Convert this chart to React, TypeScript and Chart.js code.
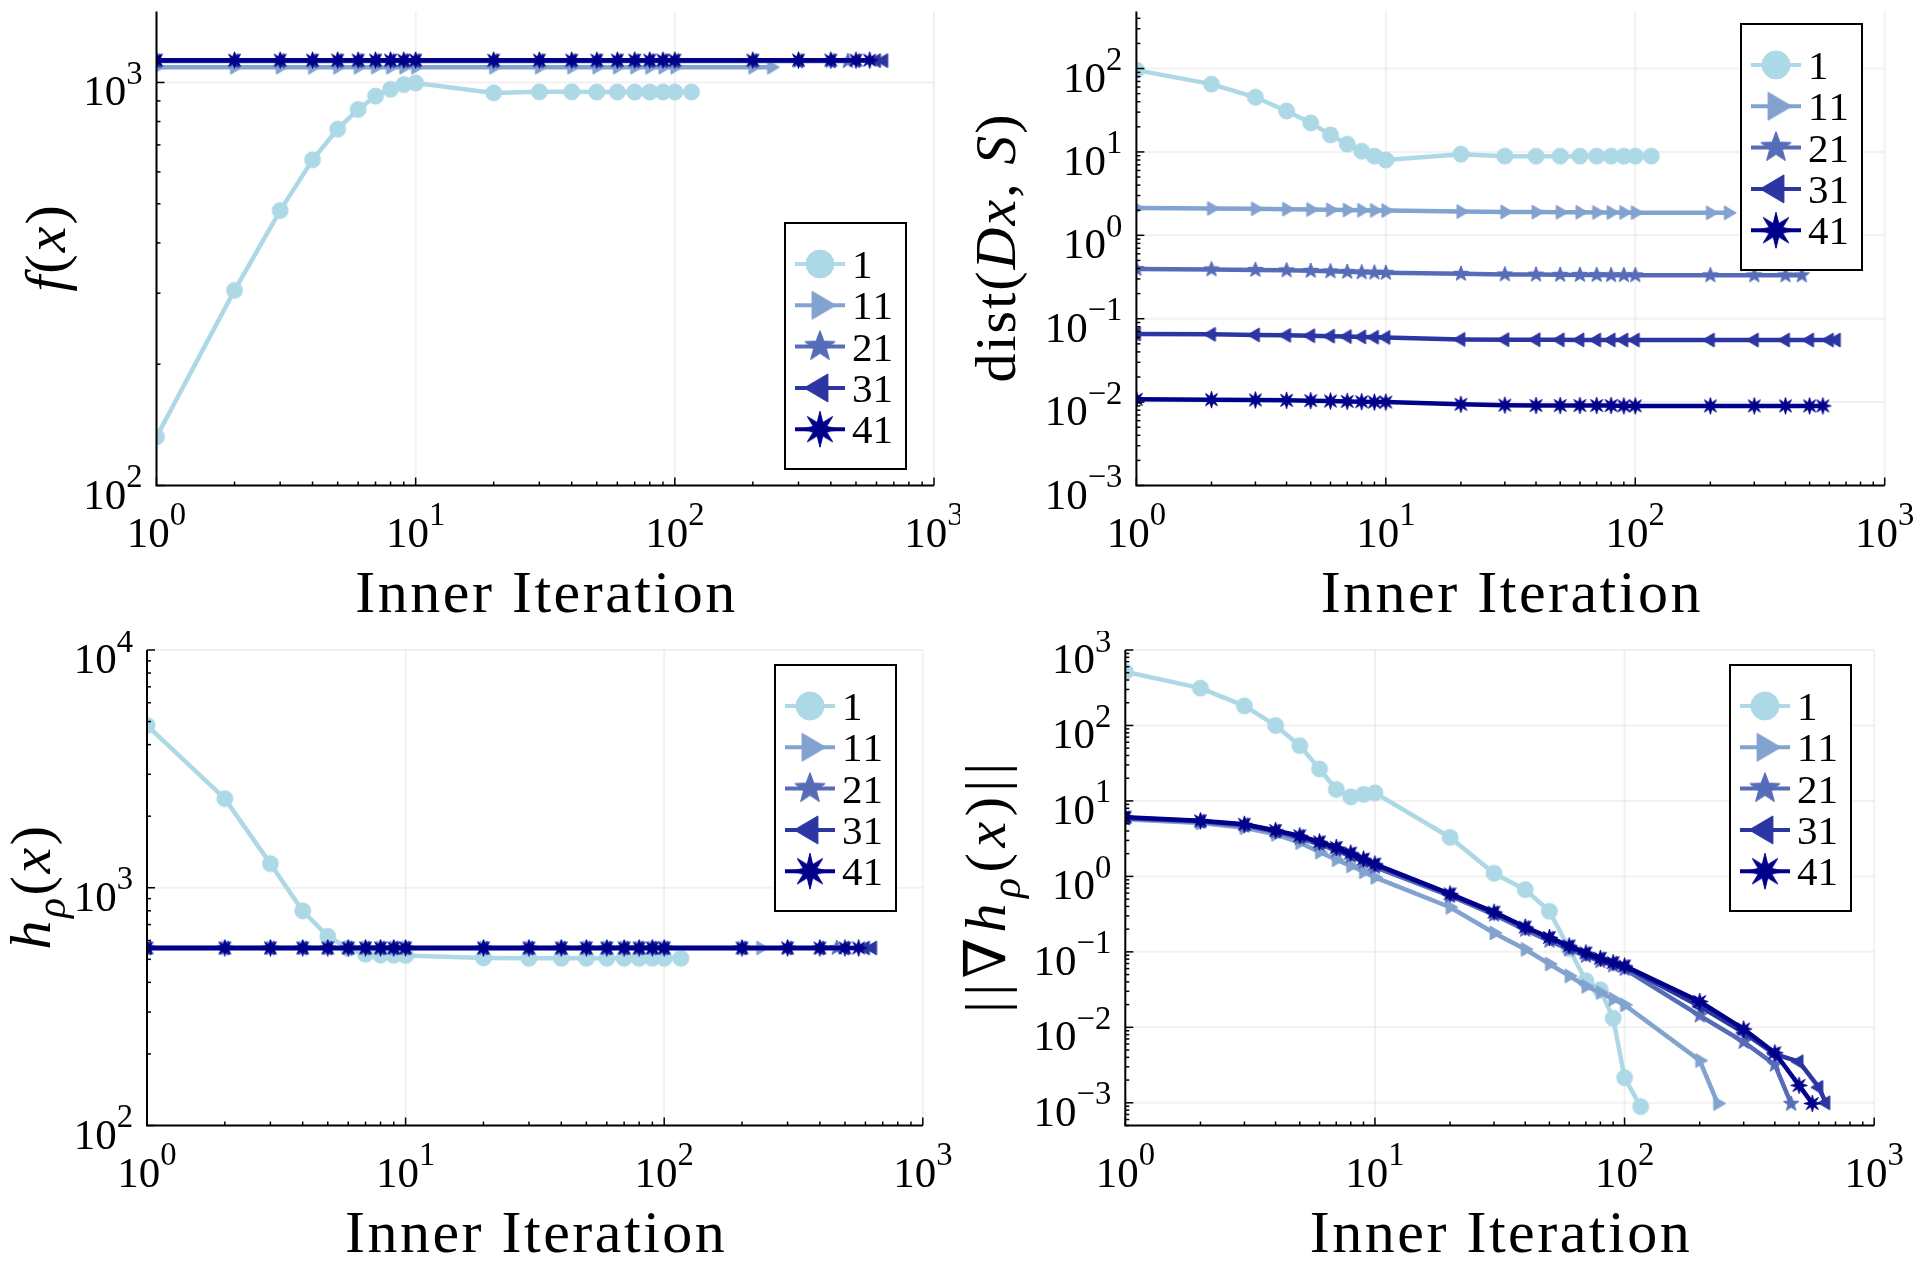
import React, { useEffect, useRef } from 'react';
import { Chart, registerables } from 'chart.js';

Chart.register(...registerables);

// ---------------- data ----------------
const SERIES_LABELS = ['1', '11', '21', '31', '41'];
const SERIES_COLORS = ['#ADD8E6', '#82A2CF', '#576CB9', '#2B36A2', '#00008B'];
const SERIES_MARKERS = ['circle', 'rtriangle', 'star5', 'ltriangle', 'star8'];

const ITERS_1 = [1, 2, 3, 4, 5, 6, 7, 8, 9, 10, 20, 30, 40, 50, 60, 70, 80, 90, 100, 116];
const ITERS_11 = [1, 2, 3, 4, 5, 6, 7, 8, 9, 10, 20, 30, 40, 50, 60, 70, 80, 90, 100, 200, 236];
const ITERS_21 = [1, 2, 3, 4, 5, 6, 7, 8, 9, 10, 20, 30, 40, 50, 60, 70, 80, 90, 100, 200, 300, 400, 465];
const ITERS_31 = [1, 2, 3, 4, 5, 6, 7, 8, 9, 10, 20, 30, 40, 50, 60, 70, 80, 90, 100, 200, 300, 400, 500, 600, 640];
const ITERS_41 = [1, 2, 3, 4, 5, 6, 7, 8, 9, 10, 20, 30, 40, 50, 60, 70, 80, 90, 100, 200, 300, 400, 500, 565];

// f(x)
const F_1 = [132, 305, 481, 643, 766, 857, 925, 962, 988, 997, 942, 948, 948, 947, 947, 947, 947, 947, 947, 947];
const F_11 = [1091, 1091, 1091, 1091, 1091, 1091, 1091, 1091, 1091, 1091, 1091, 1091, 1091, 1091, 1091, 1091, 1091, 1091, 1091, 1091, 1091];
const F_21 = [1130, 1130, 1130, 1130, 1130, 1130, 1130, 1130, 1130, 1130, 1130, 1130, 1130, 1130, 1130, 1130, 1130, 1130, 1130, 1130, 1130, 1130, 1130];
const F_31 = [1133, 1133, 1133, 1133, 1133, 1133, 1133, 1133, 1133, 1133, 1133, 1133, 1133, 1133, 1133, 1133, 1133, 1133, 1133, 1133, 1133, 1133, 1133, 1133, 1133];
const F_41 = [1136, 1136, 1136, 1136, 1136, 1136, 1136, 1136, 1136, 1136, 1136, 1136, 1136, 1136, 1136, 1136, 1136, 1136, 1136, 1136, 1136, 1136, 1136, 1136];

// dist(Dx, S)
const D_1 = [95.7, 65, 45.2, 31, 22.3, 16, 12.4, 10.2, 8.9, 8.0, 9.4, 8.9, 8.9, 8.9, 8.9, 8.9, 8.9, 8.9, 8.9, 8.9];
const D_11 = [2.12, 2.1, 2.08, 2.06, 2.04, 2.02, 2.01, 2.0, 1.99, 1.98, 1.93, 1.91, 1.9, 1.89, 1.89, 1.88, 1.88, 1.88, 1.87, 1.86, 1.86];
const D_21 = [0.395, 0.39, 0.385, 0.38, 0.375, 0.37, 0.365, 0.36, 0.357, 0.355, 0.345, 0.34, 0.338, 0.336, 0.335, 0.334, 0.333, 0.333, 0.332, 0.332, 0.331, 0.331, 0.331];
const D_31 = [0.0656, 0.065, 0.064, 0.0632, 0.0625, 0.0618, 0.061, 0.0605, 0.06, 0.0597, 0.0565, 0.0561, 0.056, 0.0558, 0.0557, 0.0556, 0.0556, 0.0555, 0.0555, 0.0555, 0.0555, 0.0555, 0.0555, 0.0555, 0.0555];
const D_41 = [0.0108, 0.0107, 0.0106, 0.0105, 0.0104, 0.0103, 0.0102, 0.0101, 0.01, 0.01, 0.0094, 0.0092, 0.0091, 0.0091, 0.0091, 0.0091, 0.0091, 0.009, 0.009, 0.009, 0.009, 0.009, 0.009, 0.009];

// h_rho(x)
const H_1 = [4820, 2370, 1263, 799, 625, 555, 525, 521, 520, 519, 507, 505, 505, 505, 505, 505, 505, 505, 505, 505];
const H_11 = [558, 558, 558, 558, 558, 558, 558, 558, 558, 558, 558, 558, 558, 558, 558, 558, 558, 558, 558, 558, 558];
const H_21 = [558, 558, 558, 558, 558, 558, 558, 558, 558, 558, 558, 558, 558, 558, 558, 558, 558, 558, 558, 558, 558, 558, 558];
const H_31 = [558, 558, 558, 558, 558, 558, 558, 558, 558, 558, 558, 558, 558, 558, 558, 558, 558, 558, 558, 558, 558, 558, 558, 558, 558];
const H_41 = [558, 558, 558, 558, 558, 558, 558, 558, 558, 558, 558, 558, 558, 558, 558, 558, 558, 558, 558, 558, 558, 558, 558, 558];

// ||grad h_rho(x)||
const G_1 = [516, 312, 182, 100, 54, 26.5, 14.2, 11.3, 12.2, 12.8, 3.28, 1.1, 0.667, 0.345, 0.11, 0.0414, 0.0315, 0.0132, 0.00215, 0.00089];
const G_11 = [5.7, 5.1, 4.4, 3.6, 2.8, 2.1, 1.66, 1.38, 1.15, 0.97, 0.39, 0.178, 0.108, 0.069, 0.048, 0.035, 0.029, 0.0237, 0.0198, 0.00363, 0.00098];
const G_21 = [5.9, 5.3, 4.7, 3.9, 3.2, 2.65, 2.2, 1.85, 1.55, 1.33, 0.55, 0.31, 0.195, 0.14, 0.108, 0.088, 0.075, 0.066, 0.059, 0.0143, 0.0064, 0.0032, 0.00097];
const G_31 = [6.0, 5.4, 4.85, 4.0, 3.4, 2.8, 2.35, 1.98, 1.65, 1.42, 0.575, 0.33, 0.21, 0.152, 0.117, 0.095, 0.081, 0.071, 0.064, 0.019, 0.0085, 0.0044, 0.0035, 0.0016, 0.001];
const G_41 = [6.1, 5.45, 4.9, 4.05, 3.45, 2.87, 2.42, 2.04, 1.7, 1.46, 0.586, 0.336, 0.213, 0.155, 0.12, 0.097, 0.082, 0.072, 0.065, 0.022, 0.0095, 0.0046, 0.0017, 0.00098];

const SERIES_ITERS = [ITERS_1, ITERS_11, ITERS_21, ITERS_31, ITERS_41];

// tick labels (exponents of 10)
const X_TICK_EXP = [0, 1, 2, 3];
const F_Y_TICK_EXP = [2, 3];
const D_Y_TICK_EXP = [-3, -2, -1, 0, 1, 2];
const H_Y_TICK_EXP = [2, 3, 4];
const G_Y_TICK_EXP = [-3, -2, -1, 0, 1, 2, 3];

const X_TITLE = 'Inner Iteration';

type Run = { t: string; it?: boolean; sub?: boolean; sup?: boolean };
const F_TITLE: Run[] = [{ t: 'f', it: true }, { t: '(' }, { t: 'x', it: true }, { t: ')' }];
const D_TITLE: Run[] = [{ t: 'dist(' }, { t: 'Dx', it: true }, { t: ', ' }, { t: 'S', it: true }, { t: ')' }];
const H_TITLE: Run[] = [{ t: 'h', it: true }, { t: 'ρ', it: true, sub: true }, { t: '(' }, { t: 'x', it: true }, { t: ')' }];
const G_TITLE: Run[] = [
  { t: '||' }, { t: '∇' }, { t: 'h', it: true }, { t: 'ρ', it: true, sub: true },
  { t: '(' }, { t: 'x', it: true }, { t: ')' }, { t: '||' },
];

// ---------------- layout / style ----------------
const FONT = '"Liberation Serif", "Times New Roman", "DejaVu Serif", serif';
const TICK_FONT = 43;
const SUP_SCALE = 0.76;
const LEGEND_FONT = 41;

const PANELS = [
  {
    left: 0, top: 0, pad: { left: 156.5, right: 26, top: 9, bottom: 145.5 },
    yMin: 100, yMax: 1500, yTicks: F_Y_TICK_EXP, yTitle: F_TITLE, yTitleX: 65, yTitleSpacing: 2,
    legend: { x: 785, y: 223 }, values: [F_1, F_11, F_21, F_31, F_41],
  },
  {
    left: 960, top: 0, pad: { left: 176.4, right: 35.3, top: 9, bottom: 145.5 },
    yMin: 0.001, yMax: 483, yTicks: D_Y_TICK_EXP, yTitle: D_TITLE, yTitleX: 55, yTitleSpacing: 2,
    legend: { x: 781, y: 24 }, values: [D_1, D_11, D_21, D_31, D_41],
  },
  {
    left: 0, top: 631, pad: { left: 147, right: 37.2, top: 19, bottom: 136.5 },
    yMin: 100, yMax: 10000, yTicks: H_Y_TICK_EXP, yTitle: H_TITLE, yTitleX: 50, yTitleSpacing: 2.5,
    legend: { x: 775, y: 34 }, values: [H_1, H_11, H_21, H_31, H_41],
  },
  {
    left: 960, top: 631, pad: { left: 165.3, right: 45.8, top: 19, bottom: 136.5 },
    yMin: 0.0005, yMax: 1000, yTicks: G_Y_TICK_EXP, yTitle: G_TITLE, yTitleX: 45, yTitleSpacing: 5.5,
    legend: { x: 770, y: 34 }, values: [G_1, G_11, G_21, G_31, G_41],
  },
];

// ---------------- helpers ----------------
function markerPath(ctx: CanvasRenderingContext2D, shape: string, s: number) {
  ctx.beginPath();
  if (shape === 'circle') {
    ctx.arc(0, 0, s, 0, Math.PI * 2);
  } else if (shape === 'rtriangle' || shape === 'ltriangle') {
    const dir = shape === 'rtriangle' ? 1 : -1;
    const h = s * 2;
    const w = h * 0.85;
    ctx.moveTo((dir * w * 2) / 3, 0);
    ctx.lineTo((-dir * w) / 3, -h / 2);
    ctx.lineTo((-dir * w) / 3, h / 2);
    ctx.closePath();
  } else if (shape === 'star5') {
    for (let i = 0; i < 10; i++) {
      const r = i % 2 === 0 ? s : s * 0.42;
      const a = -Math.PI / 2 + (i * Math.PI) / 5;
      if (i === 0) ctx.moveTo(r * Math.cos(a), r * Math.sin(a));
      else ctx.lineTo(r * Math.cos(a), r * Math.sin(a));
    }
    ctx.closePath();
  } else if (shape === 'star8') {
    for (let i = 0; i < 16; i++) {
      const r = i % 2 === 0 ? s : s * 0.4;
      const a = -Math.PI / 2 + (i * Math.PI) / 8;
      if (i === 0) ctx.moveTo(r * Math.cos(a), r * Math.sin(a));
      else ctx.lineTo(r * Math.cos(a), r * Math.sin(a));
    }
    ctx.closePath();
  }
}

const PLOT_MARKER_SIZE: Record<string, number> = { circle: 8, rtriangle: 7, star5: 8, ltriangle: 7, star8: 8.5 };
const LEGEND_MARKER_SIZE: Record<string, number> = { circle: 14, rtriangle: 14, star5: 16, ltriangle: 14, star8: 18 };

function makeMarker(shape: string, color: string, s: number): HTMLCanvasElement {
  const c = document.createElement('canvas');
  const n = Math.ceil(s * 2 + 4);
  c.width = n;
  c.height = n;
  const ctx = c.getContext('2d')!;
  ctx.translate(n / 2, n / 2);
  markerPath(ctx, shape, s);
  ctx.fillStyle = color;
  ctx.fill();
  ctx.strokeStyle = color;
  ctx.lineWidth = 1;
  ctx.stroke();
  return c;
}

function runFont(r: Run, size: number) {
  const s = r.sub ? size * 0.72 : r.sup ? size * SUP_SCALE : size;
  return `${r.it ? 'italic ' : ''}${s}px ${FONT}`;
}

function drawRuns(
  ctx: CanvasRenderingContext2D, runs: Run[], size: number, spacing: number,
  x: number, y: number, align: 'left' | 'center' | 'right',
) {
  const items: { ch: string; x: number; font: string; dy: number }[] = [];
  let w = 0;
  for (const r of runs) {
    const font = runFont(r, size);
    ctx.font = font;
    for (const ch of Array.from(r.t)) {
      const cw = ctx.measureText(ch).width;
      items.push({ ch, x: w, font, dy: r.sub ? size * 0.25 : r.sup ? -size * 0.5 : 0 });
      w += cw + spacing;
    }
  }
  w -= spacing;
  const x0 = align === 'center' ? x - w / 2 : align === 'right' ? x - w : x;
  ctx.textAlign = 'left';
  ctx.textBaseline = 'alphabetic';
  ctx.fillStyle = '#000';
  for (const it of items) {
    ctx.font = it.font;
    ctx.fillText(it.ch, x0 + it.x, y + it.dy);
  }
}

function expRuns(e: number): Run[] {
  return [{ t: '10' }, { t: e < 0 ? '\u2212' + Math.abs(e) : String(e), sup: true }];
}

function logTicks(min: number, max: number) {
  const out: { v: number; major: boolean }[] = [];
  const e0 = Math.floor(Math.log10(min) - 1e-9);
  const e1 = Math.ceil(Math.log10(max) + 1e-9);
  for (let e = e0; e <= e1; e++) {
    for (let k = 1; k <= 9; k++) {
      const v = k * Math.pow(10, e);
      if (v >= min * (1 - 1e-9) && v <= max * (1 + 1e-9)) out.push({ v, major: k === 1 });
    }
  }
  return out;
}

function makePlugin(panel: (typeof PANELS)[number], legendMarkers: HTMLCanvasElement[]) {
  return {
    id: 'customAxes',
    beforeDatasetsDraw(chart: any) {
      const { ctx, chartArea: a, scales } = chart;
      const xs = scales.x;
      const ys = scales.y;
      ctx.save();
      ctx.strokeStyle = 'rgba(0,0,0,0.055)';
      ctx.lineWidth = 2;
      for (const e of X_TICK_EXP) {
        const px = xs.getPixelForValue(Math.pow(10, e));
        ctx.beginPath();
        ctx.moveTo(px, a.top);
        ctx.lineTo(px, a.bottom);
        ctx.stroke();
      }
      for (const e of panel.yTicks) {
        const py = ys.getPixelForValue(Math.pow(10, e));
        ctx.beginPath();
        ctx.moveTo(a.left, py);
        ctx.lineTo(a.right, py);
        ctx.stroke();
      }
      ctx.restore();
    },
    afterDraw(chart: any) {
      const { ctx, chartArea: a, scales } = chart;
      const xs = scales.x;
      const ys = scales.y;
      ctx.save();
      // spines
      ctx.strokeStyle = '#000';
      ctx.lineWidth = 2;
      ctx.beginPath();
      ctx.moveTo(a.left, a.top);
      ctx.lineTo(a.left, a.bottom);
      ctx.lineTo(a.right, a.bottom);
      ctx.stroke();
      // tick marks (inward)
      ctx.lineWidth = 1.5;
      for (const t of logTicks(1, 1000)) {
        const px = xs.getPixelForValue(t.v);
        const len = t.major ? 8 : 4;
        ctx.beginPath();
        ctx.moveTo(px, a.bottom);
        ctx.lineTo(px, a.bottom - len);
        ctx.stroke();
      }
      for (const t of logTicks(panel.yMin, panel.yMax)) {
        const py = ys.getPixelForValue(t.v);
        const len = t.major ? 8 : 4;
        ctx.beginPath();
        ctx.moveTo(a.left, py);
        ctx.lineTo(a.left + len, py);
        ctx.stroke();
      }
      // tick labels
      for (const e of X_TICK_EXP) {
        const px = xs.getPixelForValue(Math.pow(10, e));
        drawRuns(ctx, expRuns(e), TICK_FONT, 0, px, a.bottom + 61, 'center');
      }
      for (const e of panel.yTicks) {
        const py = ys.getPixelForValue(Math.pow(10, e));
        drawRuns(ctx, expRuns(e), TICK_FONT, 0, a.left - 14, py + 23, 'right');
      }
      // axis titles
      drawRuns(ctx, [{ t: X_TITLE }], 60, 2.5, (a.left + a.right) / 2, a.bottom + 126, 'center');
      ctx.save();
      ctx.translate(panel.yTitleX, (a.top + a.bottom) / 2);
      ctx.rotate(-Math.PI / 2);
      drawRuns(ctx, panel.yTitle, 58, panel.yTitleSpacing, 0, 0, 'center');
      ctx.restore();
      // legend
      const L = panel.legend;
      const LW = 121;
      const LH = 246;
      ctx.fillStyle = '#fff';
      ctx.fillRect(L.x, L.y, LW, LH);
      ctx.strokeStyle = '#000';
      ctx.lineWidth = 2;
      ctx.strokeRect(L.x, L.y, LW, LH);
      SERIES_LABELS.forEach((lab, i) => {
        const cy = L.y + 41 + i * 41.3;
        ctx.strokeStyle = SERIES_COLORS[i];
        ctx.lineWidth = 4;
        ctx.beginPath();
        ctx.moveTo(L.x + 10, cy);
        ctx.lineTo(L.x + 60, cy);
        ctx.stroke();
        const m = legendMarkers[i];
        ctx.drawImage(m, L.x + 35 - m.width / 2, cy - m.height / 2);
        drawRuns(ctx, [{ t: lab }], LEGEND_FONT, 0, L.x + 67, cy + 14, 'left');
      });
      ctx.restore();
    },
  };
}

function Panel({ panel }: { panel: (typeof PANELS)[number] }) {
  const ref = useRef<HTMLCanvasElement>(null);
  useEffect(() => {
    const plotMarkers = SERIES_MARKERS.map((s, i) => makeMarker(s, SERIES_COLORS[i], PLOT_MARKER_SIZE[s]));
    const legendMarkers = SERIES_MARKERS.map((s, i) => makeMarker(s, SERIES_COLORS[i], LEGEND_MARKER_SIZE[s]));
    const datasets = SERIES_LABELS.map((lab, i) => ({
      label: lab,
      data: SERIES_ITERS[i].map((x, j) => ({ x, y: panel.values[i][j] })),
      borderColor: SERIES_COLORS[i],
      backgroundColor: SERIES_COLORS[i],
      borderWidth: 4.5,
      pointStyle: plotMarkers[i] as any,
      pointRadius: 7,
      pointHoverRadius: 7,
      tension: 0,
      order: SERIES_LABELS.length - i,
      clip: 0,
    }));
    const chart = new Chart(ref.current!, {
      type: 'line',
      data: { datasets },
      options: {
        responsive: false,
        animation: false,
        events: [],
        layout: { padding: panel.pad },
        scales: {
          x: { type: 'logarithmic', display: false, min: 1, max: 1000 },
          y: { type: 'logarithmic', display: false, min: panel.yMin, max: panel.yMax },
        },
        plugins: { legend: { display: false }, tooltip: { enabled: false }, title: { display: false } },
      },
      plugins: [makePlugin(panel, legendMarkers)],
    } as any);
    return () => chart.destroy();
  }, []);
  return (
    <canvas
      ref={ref}
      width={960}
      height={631}
      style={{ position: 'absolute', left: panel.left, top: panel.top, width: 960, height: 631, display: 'block' }}
    />
  );
}

export default function App() {
  return (
    <div style={{ position: 'absolute', left: 0, top: 0, width: 1920, height: 1262, background: '#fff', overflow: 'hidden' }}>
      {PANELS.map((p, i) => (
        <Panel key={i} panel={p} />
      ))}
    </div>
  );
}
